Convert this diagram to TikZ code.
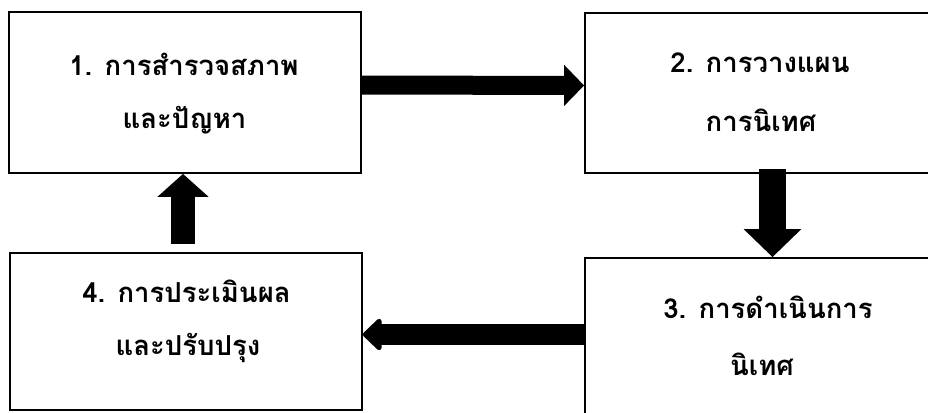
\documentclass[tikz,border=0pt]{standalone}
\usepackage{fontspec}
\newfontfamily\thaifont[Script=Thai]{Loma}
\usetikzlibrary{arrows.meta}
\begin{document}
\begin{tikzpicture}[x=1pt,y=-1pt,
  stagebox/.style={draw=black,line width=1.8pt,fill=white,rectangle,inner sep=0pt},
  stagetext/.style={anchor=base,inner sep=0pt,font=\thaifont\bfseries\fontsize{27.5}{31}\selectfont},
  flow/.style={line width=#1,line cap=butt},
]
\useasboundingbox (0,0) rectangle (928,412);
\clip (0,0) rectangle (928,412);

% the four stages
\node[stagebox,minimum width=352pt,minimum height=161pt] (s1) at (185,92.5) {};
\node[stagebox,minimum width=350pt,minimum height=160pt] (s2) at (760,93) {};
\node[stagebox,minimum width=350pt,minimum height=157pt] (s3) at (760,336.5) {};
\node[stagebox,minimum width=352pt,minimum height=157pt] (s4) at (186,331.5) {};

% stage labels
\node[stagetext] (t1a) at (184,75) {1. การสำรวจสภาพ};
\node[stagetext] (t1b) at (184.5,128) {และปัญหา};
\node[stagetext] (t2a) at (760,73) {2. การวางแผน};
\node[stagetext] (t2b) at (761,131) {การนิเทศ};
\node[stagetext] (t3a) at (768,318) {3. การดำเนินการ};
\node[stagetext] (t3b) at (762,375) {นิเทศ};
\node[stagetext] (t4a) at (186.5,302) {4. การประเมินผล};
\node[stagetext] (t4b) at (188,355) {และปรับปรุง};

% block arrows between stages
\draw[flow=19pt,-{Triangle[length=20pt,width=40pt]}]
  ([yshift=7.5pt]s1.east) -- ([yshift=7.5pt]s2.west);
\draw[flow=27pt,-{Triangle[length=28pt,width=56pt]},shorten <=-5pt]
  ([xshift=12.5pt]s2.south) -- ([xshift=12.5pt]s3.north);
\draw[flow=21pt,-{Triangle[length=20pt,width=37pt,round]}]
  ([yshift=2pt]s3.west) -- ([yshift=-3pt]s4.east);
\draw[flow=24pt,-{Triangle[length=23pt,width=50pt]},shorten <=8pt]
  ([xshift=-3pt]s4.north) -- ([xshift=-2pt]s1.south);
\end{tikzpicture}
\end{document}
